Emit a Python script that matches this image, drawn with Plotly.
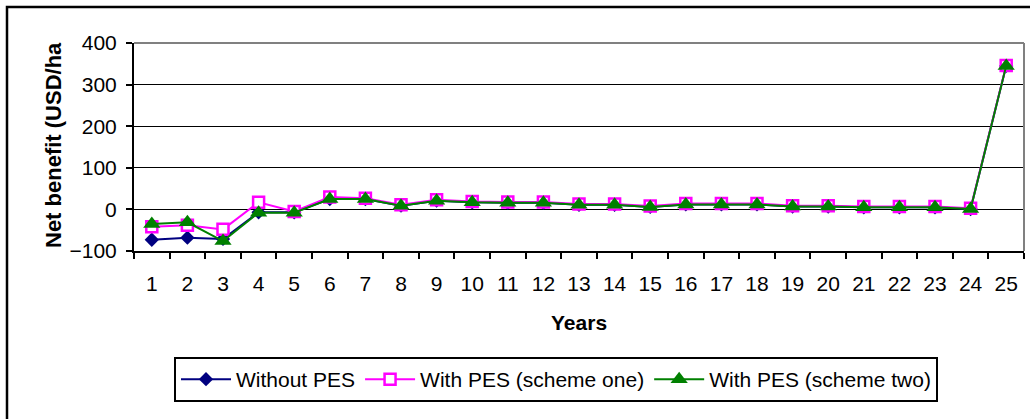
import plotly.graph_objects as go

years = [str(i) for i in range(1, 26)]
without_pes = [-73, -68, -71, -7, -7, 25, 25, 9, 21, 17, 16, 16, 11, 11, 6, 12, 12, 12, 7, 7, 5, 5, 5, 1, 345]
scheme_one = [-42, -38, -48, 17, -5, 30, 27, 11, 23, 19, 18, 18, 13, 13, 8, 14, 14, 14, 9, 9, 7, 7, 7, 3, 346]
scheme_two = [-35, -31, -76, -8, -8, 25, 25, 9, 21, 17, 16, 16, 11, 11, 6, 12, 12, 12, 7, 7, 5, 5, 5, 1, 345]

FONT = "Liberation Sans, Arial, sans-serif"

fig = go.Figure()
fig.add_trace(go.Scatter(
    x=years, y=without_pes, name="Without PES", mode="lines+markers",
    line=dict(color="#000080", width=2),
    marker=dict(symbol="diamond", size=11, color="#000080", line=dict(width=0)),
))
fig.add_trace(go.Scatter(
    x=years, y=scheme_one, name="With PES (scheme one)", mode="lines+markers",
    line=dict(color="#FF00FF", width=2),
    marker=dict(symbol="square", size=11, color="white", line=dict(color="#FF00FF", width=2.5)),
))
fig.add_trace(go.Scatter(
    x=years, y=scheme_two, name="With PES (scheme two)", mode="lines+markers",
    line=dict(color="#008000", width=2),
    marker=dict(symbol="triangle-up", size=15, color="#008000", line=dict(width=0)),
))

W, H = 1030, 419
L, R, T, B = 134, 1024, 43, 251
pw, ph = R - L, B - T

def px(x):
    return (x - L) / pw

def py(y):
    return (B - y) / ph

fig.update_layout(
    width=W, height=H,
    margin=dict(l=L, r=W - R, t=T, b=H - B, pad=0),
    paper_bgcolor="white", plot_bgcolor="white",
    font=dict(family=FONT, size=21, color="black"),
    showlegend=True,
    legend=dict(
        orientation="h", x=px(174), y=py(357), xanchor="left", yanchor="top",
        bordercolor="black", borderwidth=2, bgcolor="white",
        font=dict(family=FONT, size=21, color="black"),
        itemwidth=50, tracegroupgap=0, entrywidth=0,
    ),
    xaxis=dict(
        type="category", range=[-0.5, 24.5], showgrid=False, zeroline=False,
        showline=True, linecolor="black", linewidth=2,
        ticks="outside", tickson="boundaries", ticklen=6, tickwidth=2, tickcolor="black",
        tickfont=dict(family=FONT, size=21, color="black"),
        ticklabelstandoff=13,
    ),
    yaxis=dict(
        range=[-100, 400], dtick=100, tick0=0,
        showgrid=True, gridcolor="black", gridwidth=1, zeroline=False,
        showline=True, linecolor="black", linewidth=2,
        ticks="outside", ticklen=6, tickwidth=2, tickcolor="black",
        tickfont=dict(family=FONT, size=21, color="black"),
        ticklabelstandoff=5,
    ),
    annotations=[
        dict(text="<b>Net benefit (USD/ha</b>", x=px(53), y=py(145), xref="paper", yref="paper",
             xanchor="center", yanchor="middle", textangle=-90, showarrow=False,
             font=dict(family=FONT, size=22, color="black")),
        dict(text="<b>Years</b>", x=0.5, y=py(322), xref="paper", yref="paper",
             xanchor="center", yanchor="middle", showarrow=False,
             font=dict(family=FONT, size=21, color="black")),
    ],
    shapes=[
        dict(type="line", xref="paper", yref="paper", x0=0, x1=1, y0=1, y1=1,
             line=dict(color="#808080", width=2)),
        dict(type="line", xref="paper", yref="paper", x0=1, x1=1, y0=0, y1=1,
             line=dict(color="#808080", width=2)),
        dict(type="rect", xref="paper", yref="paper", x0=px(7), x1=px(1040), y0=py(430), y1=py(7),
             line=dict(color="black", width=2.5), fillcolor="rgba(0,0,0,0)"),
    ],
)

fig.write_html("out.html")
